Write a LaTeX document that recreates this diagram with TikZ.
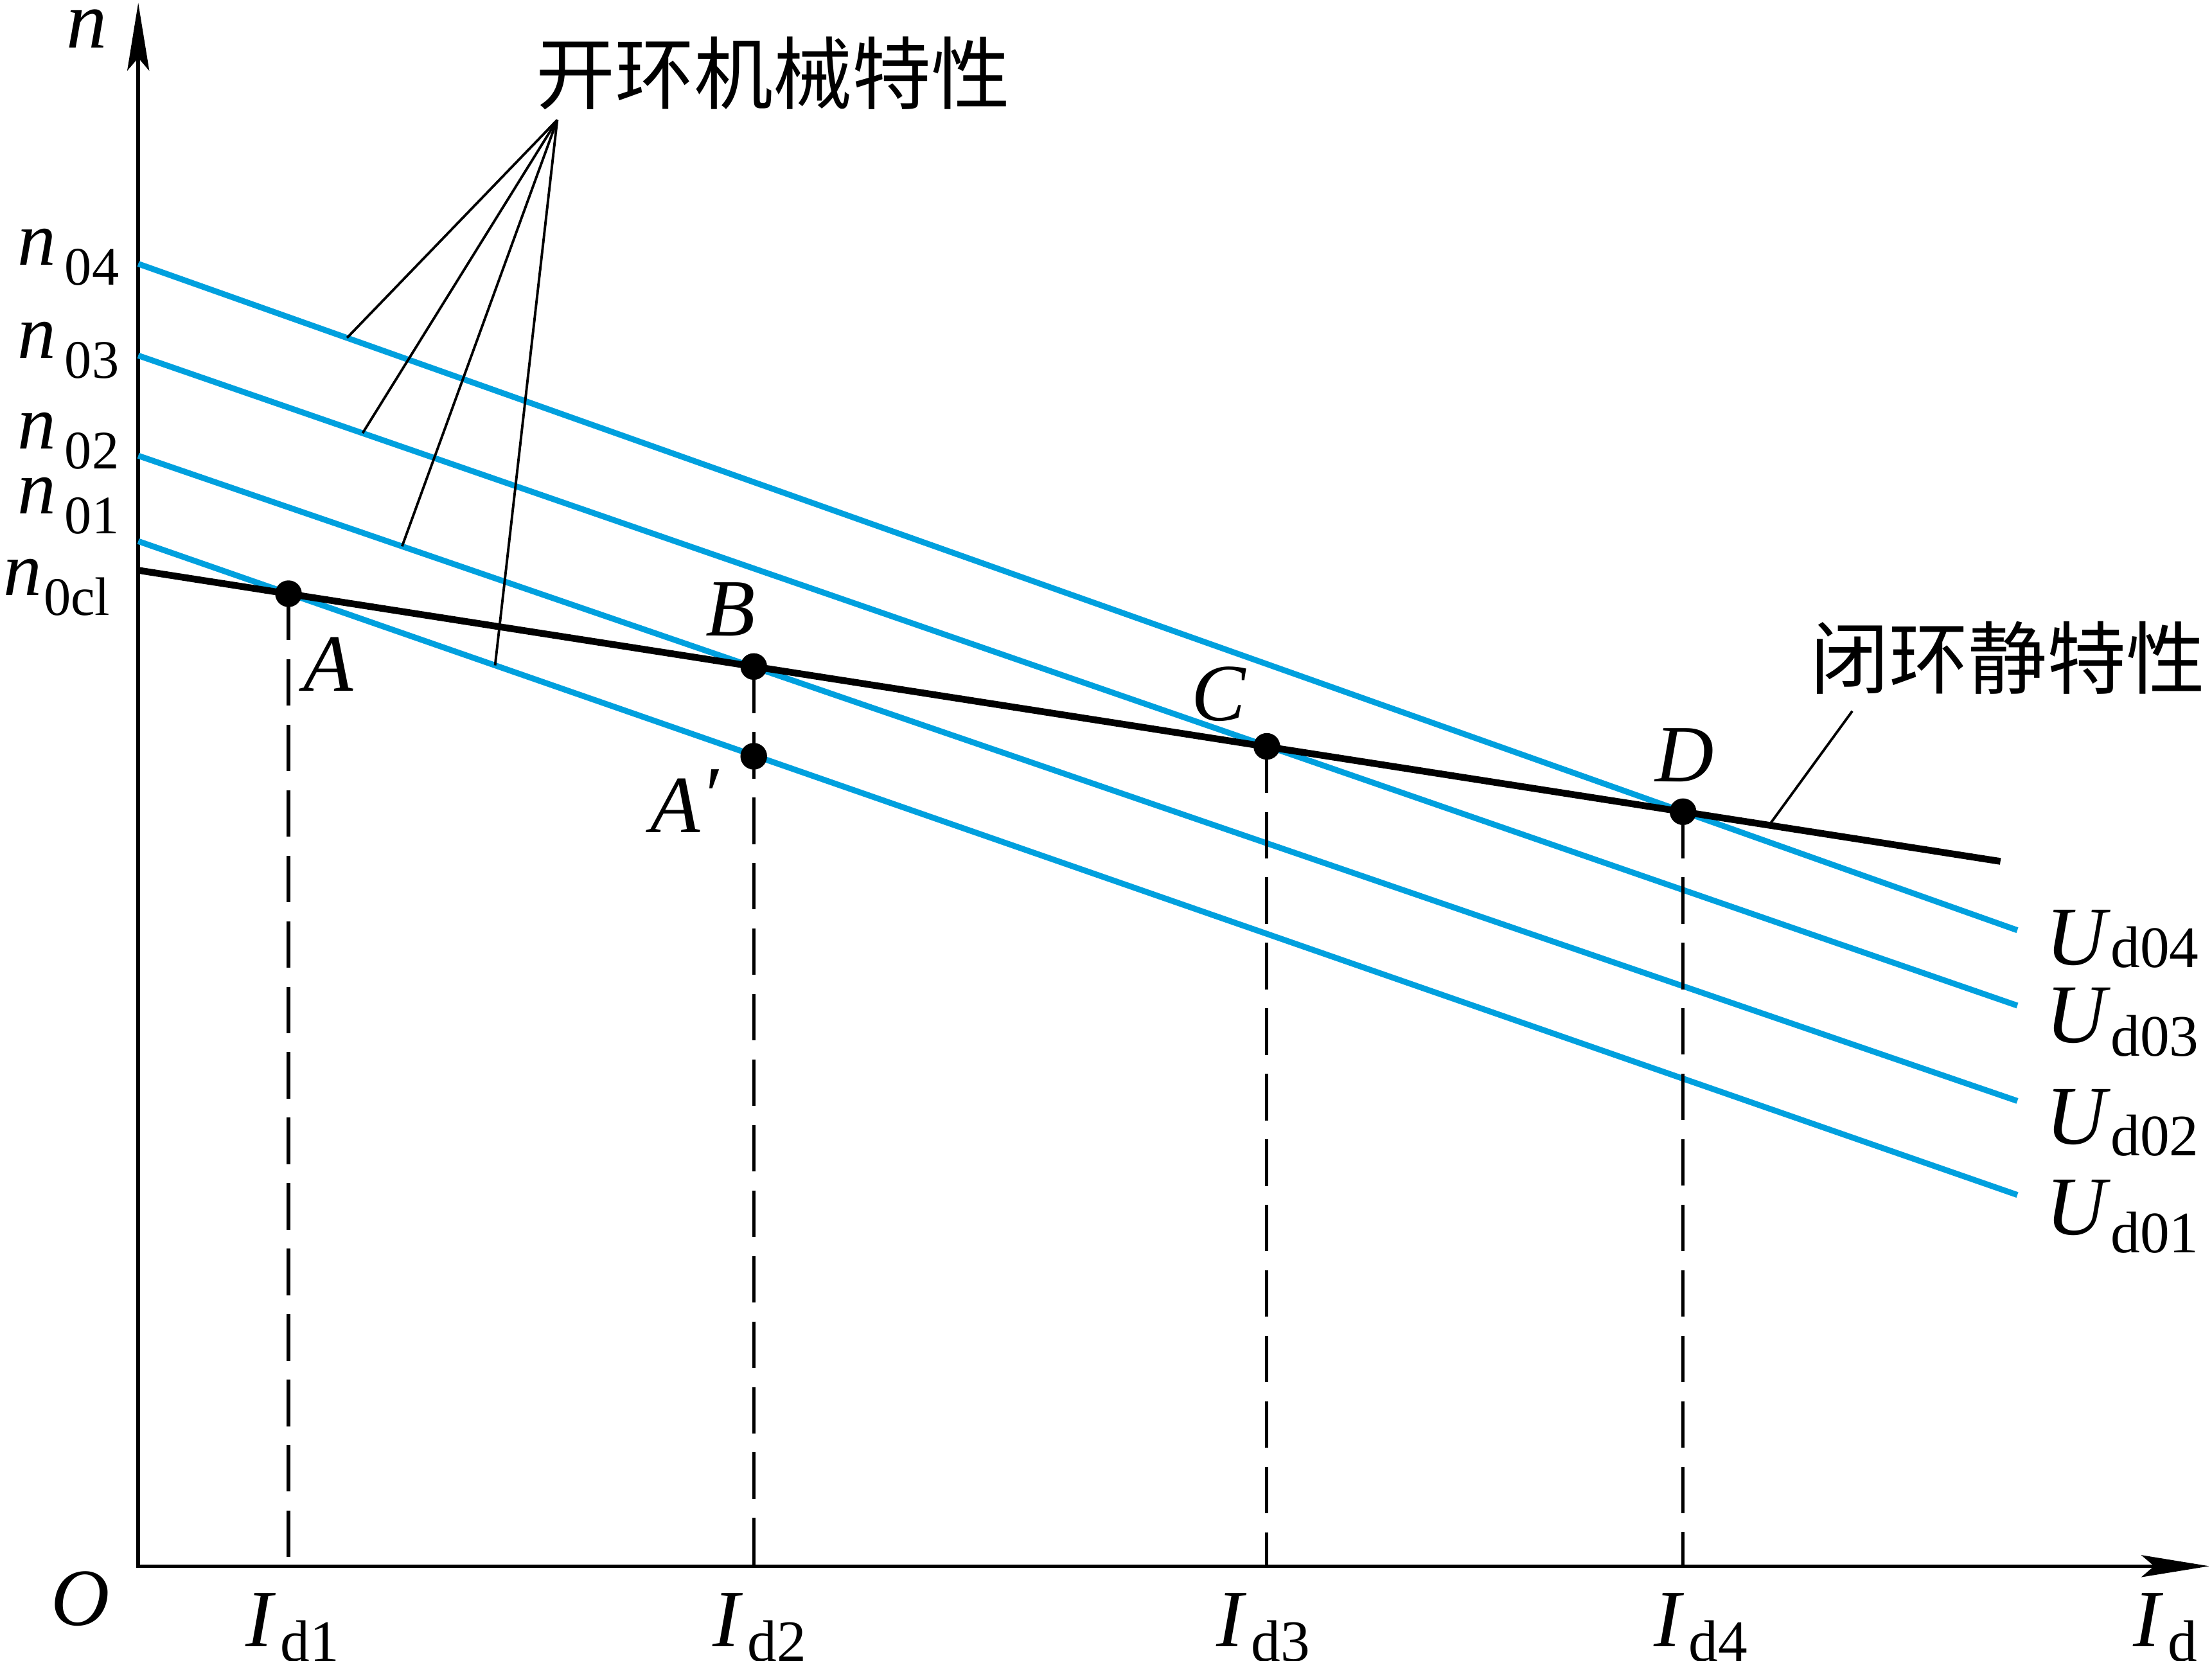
\documentclass[tikz,border=0pt]{standalone}
\usepackage{fontspec}
\setmainfont{Liberation Serif}
\newfontfamily\cjk{Noto Sans CJK SC}
\usetikzlibrary{arrows.meta,calc}
\definecolor{curveblue}{RGB}{0,160,222}
\newcommand\nlab[2][4pt]{\fontsize{34}{34}\selectfont\textit{n}\kern#1\raisebox{-0.26em}{\fontsize{24}{24}\selectfont #2}}
\newcommand\ulab[2]{\fontsize{37}{37}\selectfont\textit{U}\raisebox{-#2}{\fontsize{26}{26}\selectfont d#1}}
\newcommand\ilab[1]{\fontsize{36}{36}\selectfont\textit{I}\kern2pt\raisebox{-0.18em}{\fontsize{26}{26}\selectfont d#1}}
\begin{document}
\begin{tikzpicture}[x=0.02196cm,y=-0.02196cm,
  axis/.style={line width=1.6pt,{Stealth[length=30pt,width=9.7pt,inset=5.6pt]}-{Stealth[length=30pt,width=9.7pt,inset=5.6pt]}},
  openloop/.style={curveblue,line width=2.6pt},
  closedloop/.style={black,line width=3pt},
  guide/.style={line width=1.5pt,dash pattern=on 20.6pt off 8.4pt},
  leader/.style={line width=1.1pt},
  dot/.style={circle,fill=black,inner sep=0pt,minimum size=11.8pt},
  lbl/.style={inner sep=0pt,font=\fontsize{36}{36}\selectfont\itshape},
  txt/.style={inner sep=0pt,anchor=base west},
  cjklbl/.style={inner sep=0pt,font=\fontsize{35}{35}\selectfont\cjk}]
\useasboundingbox (0,0) rectangle (1568,1177);
\clip (0,0) rectangle (1568,1177);
% axes
\coordinate (O) at (98,1110);
\coordinate (ytop) at (98,2);
\coordinate (xend) at (1566,1110);
\draw[axis] (ytop) -- (O) -- (xend);
% open-loop lines
\coordinate (u4s) at (98,187);    \coordinate (u4e) at (1430,659.3);
\coordinate (u3s) at (98,252);    \coordinate (u3e) at (1430,712.7);
\coordinate (u2s) at (98,323);    \coordinate (u2e) at (1430,780.3);
\coordinate (u1s) at (98,383.6);  \coordinate (u1e) at (1430,846.9);
\coordinate (bs) at (98,404.2);   \coordinate (be) at (1418,610.5);
\draw[openloop] (u4s) -- (u4e);
\draw[openloop] (u3s) -- (u3e);
\draw[openloop] (u2s) -- (u2e);
\draw[openloop] (u1s) -- (u1e);
\draw[closedloop] (bs) -- (be);
% operating points
\coordinate (A) at (204.5,420.8);
\coordinate (B) at (534.3,472.4);
\coordinate (C) at (898,529);
\coordinate (D) at (1193,575.3);
\coordinate (Ap) at (534.3,536);
\coordinate (xA) at (A |- O);
\coordinate (xB) at (B |- O);
\coordinate (xC) at (C |- O);
\coordinate (xD) at (D |- O);
\draw[guide] (A) -- (xA);
\draw[guide] (B) -- (xB);
\draw[guide] (C) -- (xC);
\draw[guide] (D) -- (xD);
\node[dot] (pA) at (A) {};
\node[dot] (pB) at (B) {};
\node[dot] (pC) at (C) {};
\node[dot] (pD) at (D) {};
\node[dot] (pAp) at (Ap) {};
% leaders
\coordinate (conv) at (395,85);
\coordinate (l4) at ($(u4s)!0.1111!(u4e)$);
\coordinate (l3) at ($(u3s)!0.1194!(u3e)$);
\coordinate (l2) at ($(u2s)!0.1404!(u2e)$);
\coordinate (l1) at ($(u1s)!0.1899!(u1e)$);
\draw[leader] (conv) -- (l4);
\draw[leader] (conv) -- (l3);
\draw[leader] (conv) -- (l2);
\draw[leader] (conv) -- (l1);
\coordinate (cl1) at (1313,504);
\coordinate (cl2) at ($(bs)!0.8758!(be)$);
\draw[leader] (cl1) -- (cl2);
% labels
\node[txt] (nax) at (47,34) {\fontsize{36}{36}\selectfont\textit{n}};
\node[txt] (n4) at (12,188) {\nlab{04}};
\node[txt] (n3) at (12,254) {\nlab{03}};
\node[txt] (n2) at (12,318) {\nlab{02}};
\node[txt] (n1) at (12,364) {\nlab{01}};
\node[txt] (ncl) at (2,422) {\nlab[1pt]{0cl}};
\node[lbl] (tA) at (233,471) {A};
\node[lbl] (tB) at (518,432) {B};
\node[lbl] (tC) at (864,492) {C};
\node[lbl] (tD) at (1194,535) {D};
\node[txt] (tAp) at (461,590) {\fontsize{36}{36}\selectfont\textit{A\raisebox{0.12em}{′}}};
\node[txt] (tU4) at (1450,684) {\ulab{04}{1pt}};
\node[txt] (tU3) at (1450,739) {\ulab{03}{6pt}};
\node[txt] (tU2) at (1450,811) {\ulab{02}{5pt}};
\node[txt] (tU1) at (1450,875) {\ulab{01}{8pt}};
\node[lbl] (tO) at (57,1133) {O};
\node[txt] (tI1) at (174,1167) {\ilab{1}};
\node[txt] (tI2) at (505,1167) {\ilab{2}};
\node[txt] (tI3) at (862,1167) {\ilab{3}};
\node[txt] (tI4) at (1172,1167) {\ilab{4}};
\node[txt] (tI) at (1512,1167) {\ilab{}};
\node[cjklbl] (open) at (548,52) {开环机械特性};
\node[cjklbl] (closed) at (1423,466) {闭环静特性};
\end{tikzpicture}
\end{document}
